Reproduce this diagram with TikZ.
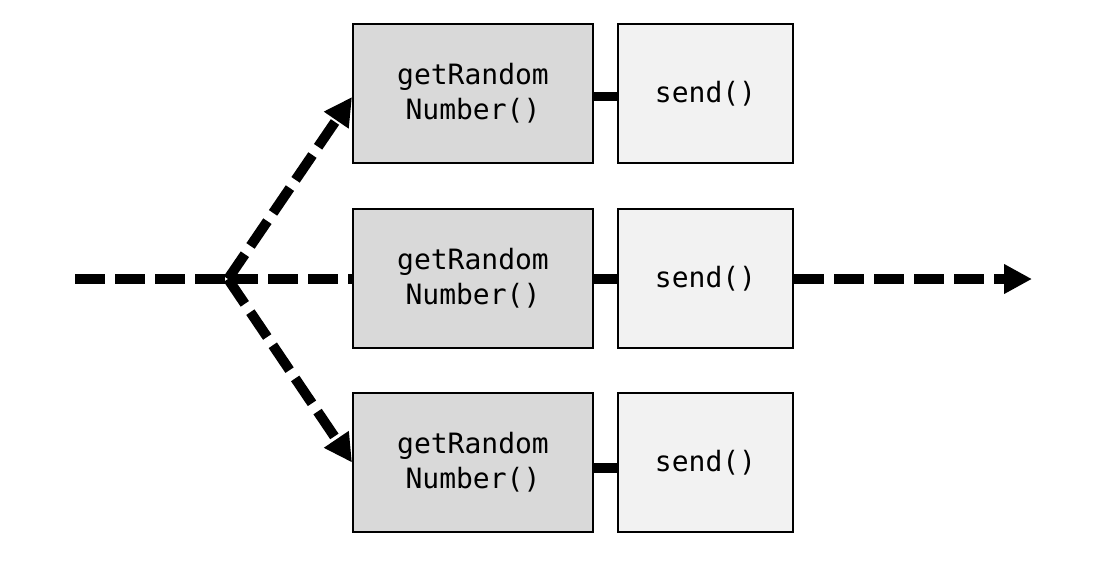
\documentclass[tikz,border=0pt]{standalone}
\usepackage{fontspec}
\newfontfamily\boxfont{DejaVu Sans Mono}
\usetikzlibrary{arrows.meta,calc}
\tikzset{
  getbox/.style={draw=black, line width=2pt, fill=getgray, minimum width=240pt, minimum height=139pt, inner sep=0pt, align=center, font=\boxfont\fontsize{28}{35}\selectfont},
  sendbox/.style={draw=black, line width=2pt, fill=sendgray, minimum width=175pt, minimum height=139pt, inner sep=0pt, align=center, font=\boxfont\fontsize{28}{35}\selectfont},
  flow/.style={line width=10pt, dash pattern=on 30pt off 10pt, line join=miter},
  flowarrow/.style={flow, -{Triangle[length=28pt,width=28pt]}},
  link/.style={line width=9.5pt}
}
\definecolor{getgray}{HTML}{D9D9D9}
\definecolor{sendgray}{HTML}{F2F2F2}
\begin{document}
\begin{tikzpicture}[x=1pt,y=-1pt]
\useasboundingbox (0,0) rectangle (1100,566);
\node[getbox] (g1) at (473,93.5) {getRandom\\Number()};
\node[getbox] (g2) at (473,278.5) {getRandom\\Number()};
\node[getbox] (g3) at (473,462.5) {getRandom\\Number()};
\node[sendbox] (s1) at (705.5,93.5) {send()};
\node[sendbox] (s2) at (705.5,278.5) {send()};
\node[sendbox] (s3) at (705.5,462.5) {send()};
\coordinate (in) at (75,279);
\coordinate (j) at (228,279);
\coordinate (out) at (1032,279);
\draw[link] ([yshift=-3pt]g1.east) -- ([yshift=-3pt]s1.west);
\draw[link] ([yshift=-0.5pt]g2.east) -- ([yshift=-0.5pt]s2.west);
\draw[link] ([yshift=-5.5pt]g3.east) -- ([yshift=-5.5pt]s3.west);
\draw[flow] (in) -- (j);
\draw[flow] (j) -- ([yshift=-0.5pt]g2.west);
\draw[flowarrow] (j) -- ([yshift=-3.5pt]g1.west);
\draw[flowarrow] (j) -- ([yshift=0pt]g3.west);
\draw[flowarrow] ([yshift=-0.5pt]s2.east) -- (out);
\end{tikzpicture}
\end{document}
